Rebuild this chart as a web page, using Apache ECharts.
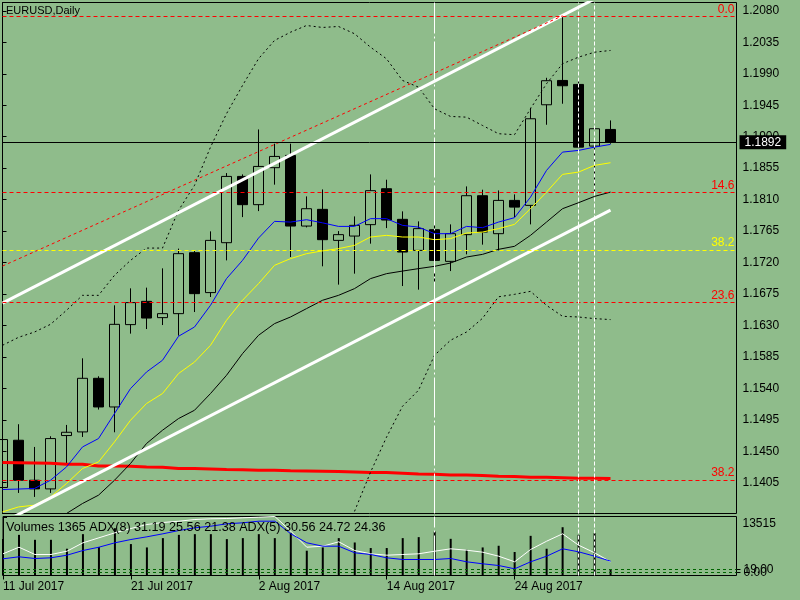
<!DOCTYPE html>
<html>
<head>
<meta charset="utf-8">
<title>EURUSD,Daily</title>
<style>
html, body { margin: 0; height: 100%; background: #8fbc8b; }
#chart { width: 800px; height: 600px; }
</style>
</head>
<body>
<div id="chart"></div>
<script src="https://cdn.jsdelivr.net/npm/echarts@6/dist/echarts.min.js"></script>
<script>
// x positions are bar numbers, 0 = 11 Jul 2017
var xTicks = [0, 8, 16, 24, 32];
var xTickLabels = ['11 Jul 2017', '21 Jul 2017', '2 Aug 2017', '14 Aug 2017', '24 Aug 2017'];
var priceTicks = [1.2080, 1.2035, 1.1990, 1.1945, 1.1900, 1.1855, 1.1810, 1.1765, 1.1720,
                  1.1675, 1.1630, 1.1585, 1.1540, 1.1495, 1.1450, 1.1405];

var openP  = [1.13982, 1.14658, 1.14086, 1.13962, 1.14725, 1.14777, 1.15544, 1.15134, 1.16312, 1.16645,
              1.16412, 1.16469, 1.17341, 1.16770, 1.17484, 1.18432, 1.18028, 1.18557, 1.18733, 1.17722,
              1.17961, 1.17517, 1.17579, 1.17742, 1.18256, 1.17818, 1.17374, 1.17670, 1.17217, 1.17599,
              1.18156, 1.17613, 1.18089, 1.18018, 1.19457, 1.19805, 1.19748, 1.18866, 1.19104];
var closeP = [1.14668, 1.14086, 1.13962, 1.14682, 1.14772, 1.15544, 1.15134, 1.16316, 1.16627, 1.16406,
              1.16469, 1.17327, 1.16755, 1.17517, 1.18432, 1.18028, 1.18575, 1.18718, 1.17722, 1.17970,
              1.17527, 1.17599, 1.17732, 1.18228, 1.17808, 1.17350, 1.17685, 1.17231, 1.17613, 1.18156,
              1.17636, 1.18089, 1.17993, 1.19257, 1.19801, 1.19729, 1.18851, 1.19114, 1.18920];
var lowP   = [1.13915, 1.13904, 1.13847, 1.13904, 1.14325, 1.14705, 1.15097, 1.14772, 1.16183, 1.16249,
              1.16306, 1.16155, 1.16492, 1.16707, 1.17231, 1.17850, 1.17936, 1.18314, 1.17279, 1.17703,
              1.17146, 1.16884, 1.17041, 1.17470, 1.17693, 1.16864, 1.16812, 1.16659, 1.17078, 1.17317,
              1.17456, 1.17374, 1.17850, 1.17746, 1.19171, 1.19472, 1.18840, 1.18218, 1.18900];
var highP  = [1.14801, 1.14887, 1.14562, 1.14715, 1.14877, 1.15830, 1.15573, 1.16588, 1.16831, 1.16841,
              1.17117, 1.17399, 1.17374, 1.17646, 1.18480, 1.18461, 1.19104, 1.18900, 1.18900, 1.18146,
              1.18246, 1.17650, 1.17860, 1.18461, 1.18385, 1.17932, 1.17789, 1.17908, 1.17746, 1.18289,
              1.18242, 1.18232, 1.18175, 1.19415, 1.19843, 1.20720, 1.19843, 1.19120, 1.19233];

var maBlue   = [1.13953, 1.13960, 1.13968, 1.14086, 1.14276, 1.14562, 1.14682, 1.15040, 1.15397, 1.15634,
                1.15802, 1.16145, 1.16278, 1.16588, 1.16970, 1.17231, 1.17550, 1.17789, 1.17779, 1.17813,
                1.17768, 1.17717, 1.17717, 1.17828, 1.17828, 1.17732, 1.17707, 1.17613, 1.17613, 1.17717,
                1.17699, 1.17779, 1.17842, 1.18136, 1.18518, 1.18780, 1.18804, 1.18851, 1.18890];
var maYellow = [1.13633, 1.13704, 1.13729, 1.13847, 1.14039, 1.14253, 1.14348, 1.14634, 1.14944, 1.15183,
                1.15326, 1.15612, 1.15777, 1.16016, 1.16374, 1.16660, 1.16898, 1.17160, 1.17256, 1.17327,
                1.17367, 1.17399, 1.17446, 1.17565, 1.17589, 1.17565, 1.17565, 1.17527, 1.17542, 1.17622,
                1.17636, 1.17685, 1.17746, 1.17970, 1.18208, 1.18461, 1.18494, 1.18590, 1.18628];
var maBlack  = [null, null, null, null, 1.13610, 1.13753, 1.13872, 1.14086, 1.14325, 1.14611,
                1.14801, 1.14968, 1.15087, 1.15326, 1.15587, 1.15897, 1.16159, 1.16326, 1.16421, 1.16541,
                1.16660, 1.16731, 1.16827, 1.16970, 1.17041, 1.17078, 1.17113, 1.17146, 1.17193, 1.17279,
                1.17317, 1.17389, 1.17432, 1.17589, 1.17779, 1.17970, 1.18056, 1.18146, 1.18208];
var bbUpper  = [1.16016, 1.16130, 1.16206, 1.16316, 1.16517, 1.16731, 1.16731, 1.17017, 1.17231, 1.17407,
                1.17407, 1.17946, 1.18304, 1.18851, 1.19329, 1.19733, 1.20115, 1.20377, 1.20495, 1.20591,
                1.20563, 1.20577, 1.20473, 1.20281, 1.20115, 1.19805, 1.19709, 1.19400, 1.19290, 1.19280,
                1.19161, 1.19043, 1.19029, 1.19400, 1.19758, 1.20044, 1.20138, 1.20209, 1.20234];
var bbLower  = [null, null, null, null, null, null, null, null, null, null,
                null, null, null, null, null, null, null, null, null, null,
                null, null, 1.13640, 1.14200, 1.14701, 1.15144, 1.15373, 1.15873, 1.16088, 1.16206,
                1.16402, 1.16710, 1.16745, 1.16788, 1.16588, 1.16431, 1.16421, 1.16398, 1.16384];
var maRed    = [1.14339, 1.14336, 1.14333, 1.14330, 1.14315, 1.14315, 1.14291, 1.14291, 1.14285, 1.14276,
                1.14270, 1.14253, 1.14253, 1.14248, 1.14239, 1.14235, 1.14229, 1.14229, 1.14222, 1.14219,
                1.14215, 1.14210, 1.14205, 1.14196, 1.14196, 1.14186, 1.14176, 1.14172, 1.14162, 1.14162,
                1.14155, 1.14143, 1.14140, 1.14129, 1.14129, 1.14122, 1.14115, 1.14115, 1.14112];

var upperChannel = [[0, 1.1662], [37, 1.2097]];
var lowerChannel = [[0, 1.1348], [38, 1.1795]];
var redTrend     = [[0, 1.1715], [35, 1.2073]];

var fibLevels = [1.2072, 1.1820, 1.1738, 1.1663, 1.1409];
var fibLabels = ['0.0', '14.6', '38.2', '23.6', '38.2'];
var fibColors = ['#ff0000', '#ff0000', '#ffff00', '#ff0000', '#ff0000'];
var vLines = [27, 36, 37];
var lastPrice = 1.1892;

var volumes  = [8500, 9438, 8287, 8287, 6215, 9599, 6607, 10981, 7297, 6515,
                8679, 9438, 9599, 9599, 8448, 8679, 9599, 8679, 9899, 5755,
                6515, 8679, 7666, 6377, 6377, 8679, 8909, 10198, 8517, 5985,
                6515, 6906, 5456, 9208, 6215, 11211, 9438, 9830, 1365];
var adxWhite = [21.7, 28.3, 21.0, 21.0, 24.3, 32.7, 37.7, 42.7, 47.0, 51.0,
                53.0, 54.3, 56.0, 56.7, 57.0, 57.7, 58.3, 59.0, 44.3, 28.3,
                29.3, 33.7, 25.0, 21.7, 20.3, 21.0, 21.7, 24.3, 26.7, 25.3,
                23.3, 19.3, 13.7, 26.0, 34.3, 41.7, 30.3, 22.7, 13.7];
var adxBlue  = [16.7, 18.7, 17.0, 17.7, 20.3, 25.0, 28.3, 32.7, 36.0, 38.7,
                41.7, 45.0, 47.7, 49.3, 51.7, 52.7, 54.3, 54.3, 41.7, 32.7,
                29.3, 29.3, 22.7, 21.0, 17.7, 16.0, 16.0, 16.0, 17.0, 13.7,
                11.7, 10.0, 6.7, 13.7, 19.3, 26.7, 23.7, 19.3, 14.3];
var volTicks = [13515];
var adxLevels = [6, 3.3];
var adxLevelLabels = ['19.00', '0.00'];
var volText = 'Volumes ' + volumes[volumes.length - 1] + ' ADX(8) 31.19 25.56 21.38 ADX(5) 30.56 24.72 24.36';

function pairs(arr) {
    return arr.map(function (v, i) { return [i, v]; });
}
var candleData = openP.map(function (o, i) {
    return [i, o, closeP[i], lowP[i], highP[i]];
});

var FONT = 'Liberation Sans';
var XMAX = 45.875;

function lineS(data, color, width, type, z) {
    return {
        type: 'line', xAxisIndex: 0, yAxisIndex: 0, data: data,
        symbol: 'none', z: z || 4, silent: true,
        lineStyle: { color: color, width: width, type: type || 'solid' }
    };
}

var mainMarks = [];
fibLevels.forEach(function (lv, k) {
    mainMarks.push({
        yAxis: lv,
        lineStyle: { color: fibColors[k], width: 1, type: [4, 3] },
        label: { show: true, position: 'insideEndTop', formatter: fibLabels[k],
                 color: fibColors[k], fontSize: 12, fontFamily: FONT, distance: [2, 1] }
    });
});
vLines.forEach(function (x, k) {
    mainMarks.push({ xAxis: x, lineStyle: { color: '#ffffff', width: 1, type: k === 0 ? [40, 3, 2, 3] : [4, 2] } });
});
mainMarks.push({
    yAxis: lastPrice,
    lineStyle: { color: '#000', width: 1, type: 'solid' },
    label: { show: true, position: 'end', formatter: lastPrice.toFixed(4), color: '#fff',
             backgroundColor: '#000', padding: [1, 5], distance: 3, fontSize: 12, fontFamily: FONT }
});

var lowerMarks = [];
vLines.forEach(function (x, k) {
    lowerMarks.push({ xAxis: x, lineStyle: { color: '#ffffff', width: 1, type: k === 0 ? [40, 3, 2, 3] : [4, 2] } });
});
adxLevels.forEach(function (lv, k) {
    lowerMarks.push({
        yAxis: lv, lineStyle: { color: '#006400', width: 1, type: [3, 3] },
        label: { show: true, position: 'end', formatter: adxLevelLabels[k], distance: 7,
                 color: '#000', fontSize: 12, fontFamily: FONT }
    });
});

var chart = echarts.init(document.getElementById('chart'));
chart.setOption({
    animation: false,
    backgroundColor: '#8fbc8b',
    textStyle: { fontFamily: FONT, fontSize: 12 },
    title: [
        { text: 'EURUSD,Daily', left: 6, top: 5, padding: 0,
          textStyle: { fontSize: 11, fontWeight: 'normal', color: '#000', fontFamily: FONT } },
        { text: volText, left: 6, top: 521, padding: 0,
          textStyle: { fontSize: 12.6, fontWeight: 'normal', color: '#000', fontFamily: FONT } }
    ],
    grid: [
        { left: 2.5, top: 2.5, width: 734, height: 511, show: true, borderColor: '#000', borderWidth: 1, backgroundColor: 'transparent' },
        { left: 2.5, top: 516.5, width: 734, height: 59, show: true, borderColor: '#000', borderWidth: 1, backgroundColor: 'transparent' }
    ],
    xAxis: [
        { type: 'value', gridIndex: 0, min: 0, max: XMAX, show: false },
        { type: 'value', gridIndex: 1, min: 0, max: XMAX,
          axisLine: { show: false }, splitLine: { show: false },
          axisTick: { show: true, customValues: xTicks, length: 4, lineStyle: { color: '#000' } },
          axisLabel: { customValues: xTicks, align: 'left', margin: 5, color: '#000', fontSize: 12, fontFamily: FONT,
                       formatter: function (v) { var k = xTicks.indexOf(Math.round(v)); return k < 0 ? '' : xTickLabels[k]; } } }
    ],
    yAxis: [
        { type: 'value', gridIndex: 0, position: 'right', min: 1.1361, max: 1.2092,
          splitLine: { show: false },
          axisLine: { show: true, lineStyle: { color: '#000' } },
          axisTick: { show: true, customValues: priceTicks, length: 4, lineStyle: { color: '#000' } },
          axisLabel: { customValues: priceTicks, margin: 6, color: '#000', fontSize: 12, fontFamily: FONT,
                       formatter: function (v) { return v.toFixed(4); } } },
        { type: 'value', gridIndex: 1, position: 'right', min: 0, max: 13700,
          splitLine: { show: false },
          axisLine: { show: true, lineStyle: { color: '#000' } },
          axisTick: { show: true, customValues: volTicks, length: 4, lineStyle: { color: '#000' } },
          axisLabel: { customValues: volTicks, margin: 6, verticalAlign: 'top', color: '#000', fontSize: 12, fontFamily: FONT,
                       formatter: function (v) { return String(Math.round(v)); } } },
        { type: 'value', gridIndex: 1, position: 'right', min: 0, max: 59,
          splitLine: { show: false }, axisLine: { show: false },
          axisTick: { show: true, customValues: adxLevels, length: 4, lineStyle: { color: '#000' } },
          axisLabel: { show: false } }
    ],
    series: [
        { type: 'line', xAxisIndex: 0, yAxisIndex: 0, data: [], z: 1, silent: true,
          markLine: { symbol: ['none', 'none'], silent: true, animation: false, precision: 6,
                      label: { show: false }, data: mainMarks } },
        { type: 'candlestick', xAxisIndex: 0, yAxisIndex: 0, data: candleData, barWidth: 10, z: 3, silent: true,
          itemStyle: { color: 'transparent', color0: '#000', borderColor: '#000', borderColor0: '#000', borderWidth: 1 } },
        lineS(pairs(maRed), '#ff0000', 3),
        lineS(pairs(bbUpper), '#000', 1, [2, 3]),
        lineS(pairs(bbLower), '#000', 1, [2, 3]),
        lineS(pairs(maBlack), '#000', 1),
        lineS(pairs(maYellow), '#ffff00', 1),
        lineS(pairs(maBlue), '#0000ff', 1),
        lineS(upperChannel, '#ffffff', 3),
        lineS(lowerChannel, '#ffffff', 3),
        lineS(redTrend, '#ff0000', 1, [3, 3]),
        { type: 'line', xAxisIndex: 1, yAxisIndex: 2, data: [], z: 1, silent: true,
          markLine: { symbol: ['none', 'none'], silent: true, animation: false, precision: 6,
                      label: { show: false }, data: lowerMarks } },
        { type: 'bar', xAxisIndex: 1, yAxisIndex: 1, data: pairs(volumes), barWidth: 2, z: 3, silent: true,
          itemStyle: { color: '#000' } },
        { type: 'line', xAxisIndex: 1, yAxisIndex: 2, data: pairs(adxWhite), symbol: 'none', z: 4, silent: true,
          lineStyle: { color: '#ffffff', width: 1 } },
        { type: 'line', xAxisIndex: 1, yAxisIndex: 2, data: pairs(adxBlue), symbol: 'none', z: 4, silent: true,
          lineStyle: { color: '#0000ff', width: 1 } }
    ]
});
</script>
</body>
</html>
